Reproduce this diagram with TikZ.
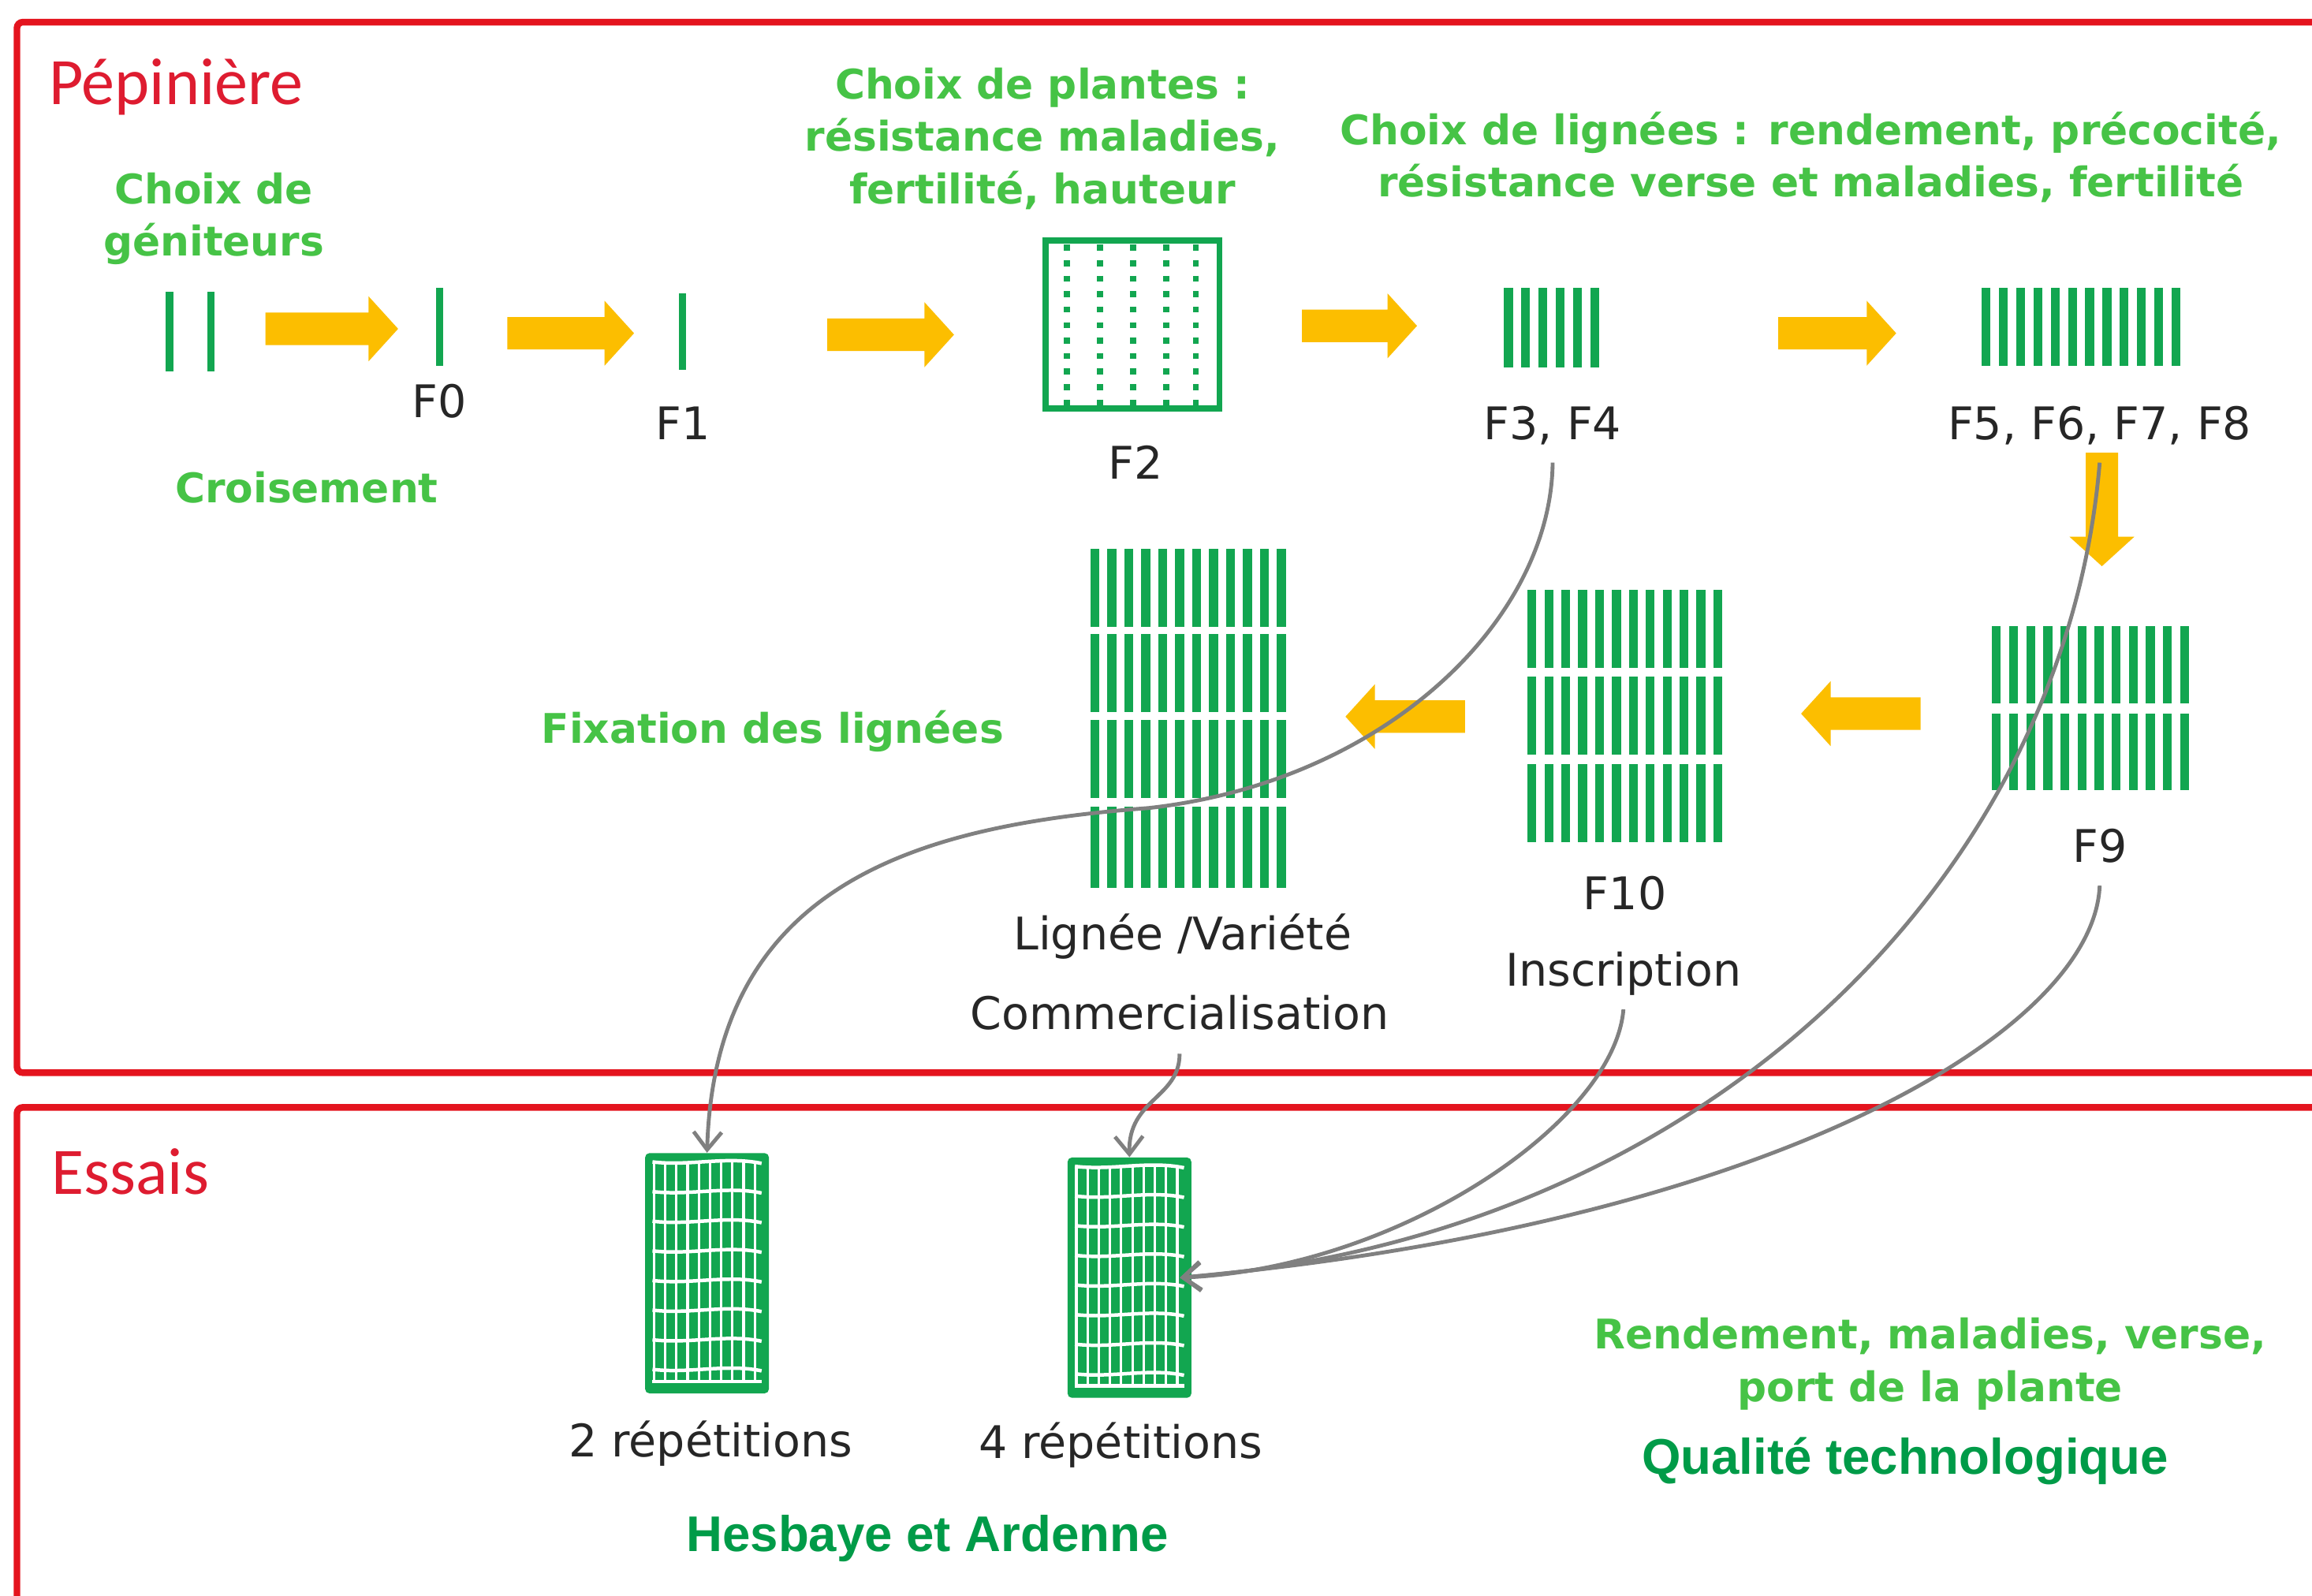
\documentclass[tikz,border=0pt]{standalone}
\usepackage{fontspec}
\setmainfont{DejaVu Sans}
\newfontfamily\calib{Carlito}
\newfontfamily\arialfam{Liberation Sans}
\usetikzlibrary{arrows.meta}
\definecolor{framered}{RGB}{228,20,30}
\definecolor{tred}{RGB}{222,28,48}
\definecolor{plant}{RGB}{18,166,80}
\definecolor{lgreen}{RGB}{70,195,70}
\definecolor{dgreen}{RGB}{0,155,72}
\definecolor{arrowfill}{RGB}{252,190,0}
\definecolor{conngray}{RGB}{128,128,128}
\newcommand{\ml}[1]{\begin{tabular}[t]{@{}c@{}}#1\end{tabular}}
\newcommand{\plantbars}[6]{\foreach \i in {0,...,#3} \fill[plant] ({#1+\i*#4},#2) rectangle ++(#5,#6);}
\newcommand{\essaiplot}[2]{%
  \fill[plant, rounded corners=3] (#1,#2) rectangle ++(84,163);
  \begin{scope}[shift={(#1,#2)}]
    \foreach \k in {0,...,9} \draw[white, line width=1.7] ({6+\k*7.6},6) -- ({6+\k*7.6},155);
    \foreach \j in {0,...,7} \draw[white, line width=2.4] (5,{6+\j*20.1}) .. controls (30,{9+\j*20.1}) and (55,{2+\j*20.1}) .. (79,{7+\j*20.1});
    \draw[white, line width=2.4] (5,155) -- (79,155);
  \end{scope}}
\begin{document}
\begin{tikzpicture}[x=1pt,y=-1pt,
  frame/.style={draw=framered, line width=4.5, rounded corners=4},
  gtxt/.style={text=lgreen, font=\fontsize{27.7}{35.5}\selectfont\bfseries, inner sep=0},
  btxt/.style={text=black!85, font=\fontsize{30.5}{36}\selectfont, inner sep=0},
  atxt/.style={text=dgreen, font=\arialfam\fontsize{34}{40}\selectfont\bfseries, inner sep=0},
  rtxt/.style={text=tred, font=\calib\fontsize{45}{50}\selectfont, inner sep=0},
  zone/.style={inner sep=0, minimum width=#1},
  conn/.style={draw=conngray, line width=2.6, -{Straight Barb[length=12pt,width=19pt]}},
  pics/barrow/.style={code={\fill[arrowfill] (-#1/2,-11) -- ({#1/2-20},-11) -- ({#1/2-20},-22) -- (#1/2,0) -- ({#1/2-20},22) -- ({#1/2-20},11) -- (-#1/2,11) -- cycle;}}
]
\useasboundingbox (0,0) rectangle (1568,1082);
\clip (0,0) rectangle (1568,1082);
\fill[white] (0,0) rectangle (1568,1082);

% frames
\draw[frame] (1590,15) -- (11.5,15) -- (11.5,727.5) -- (1590,727.5);
\draw[frame] (1590,751) -- (11.5,751) -- (11.5,1100);

% titles
\node[rtxt, anchor=base west] (pep) at (33,71) {Pépinière};
\node[rtxt, anchor=base west] (ess) at (35,810) {Essais};

% green headings
\node[gtxt, anchor=base] (tgen) at (145,138) {\ml{Choix de\\géniteurs}};
\node[gtxt, anchor=base] (tcroi) at (208,341) {Croisement};
\node[gtxt, anchor=base] (tplant) at (707,67) {\ml{Choix de plantes :\\résistance maladies,\\fertilité, hauteur}};
\node[gtxt, anchor=base] (tlign) at (1228,98) {\ml{Choix de lignées : rendement, précocité,\\résistance verse et maladies, fertilité}};
\node[gtxt, anchor=base] (tfix) at (524,504) {Fixation des lignées};
\node[gtxt, anchor=base] (trend) at (1309,915) {\ml{Rendement, maladies, verse,\\port de la plante}};
\node[atxt, anchor=base] (tqual) at (1292,1000) {Qualité technologique};
\node[atxt, anchor=base] (thesb) at (629,1052) {Hesbaye et Ardenne};

% black labels
\node[btxt, anchor=base] (f0) at (298,283) {F0};
\node[btxt, anchor=base] (f1) at (463,298) {F1};
\node[btxt, anchor=base] (f2) at (770,325) {F2};
\node[btxt, anchor=base] (f34) at (1053,298) {F3, F4};
\node[btxt, anchor=base] (f58) at (1424,298) {F5, F6, F7, F8};
\node[btxt, anchor=base] (f9) at (1424,585) {F9};
\node[btxt, anchor=base] (f10) at (1102,617) {F10};
\node[btxt, anchor=base] (insc) at (1101,669) {Inscription};
\node[btxt, anchor=base] (lvar) at (802,644) {Lignée /Variété};
\node[btxt, anchor=base] (comm) at (800,698) {Commercialisation};
\node[btxt, anchor=base] (r2) at (482,988) {2 répétitions};
\node[btxt, anchor=base] (r4) at (760,989) {4 répétitions};

% plant groups
\plantbars{112.5}{198}{0}{0}{5}{54}
\plantbars{140.5}{198}{0}{0}{5}{54}
\node[zone=34, minimum height=54] (par) at (129.5,225) {};
\plantbars{295.5}{195}{0}{0}{5}{53}
\node[zone=5, minimum height=53] (f0b) at (298,221.5) {};
\plantbars{460.5}{199}{0}{0}{5}{52}
\node[zone=5, minimum height=52] (f1b) at (463,225) {};
\node[draw=plant, line width=4, minimum width=118, minimum height=114, inner sep=0] (f2b) at (768,220) {};
\foreach \x in {723.5,746,768.5,791,811}
  \draw[plant, line width=4, dash pattern=on 4 off 6.5] (\x,166) -- (\x,277);
\plantbars{1020}{195}{5}{11.7}{6}{54}
\node[zone=65, minimum height=54] (f34b) at (1052.5,222) {};
\plantbars{1344}{195}{11}{11.7}{6}{53}
\node[zone=135, minimum height=53] (f58b) at (1411.5,221.5) {};
\plantbars{1351}{424.5}{11}{11.6}{6}{52.5}
\plantbars{1351}{484}{11}{11.6}{6}{52}
\node[zone=134, minimum height=112] (f9b) at (1418,480) {};
\plantbars{1036}{400}{11}{11.45}{6}{53}
\plantbars{1036}{459}{11}{11.45}{6}{53}
\plantbars{1036}{518}{11}{11.45}{6}{53}
\node[zone=132, minimum height=171] (f10b) at (1102,485.5) {};
\plantbars{739.5}{372}{11}{11.5}{6}{53}
\plantbars{739.5}{430}{11}{11.5}{6}{53}
\plantbars{739.5}{488}{11}{11.5}{6}{53}
\plantbars{739.5}{547}{11}{11.5}{6}{55}
\node[zone=133, minimum height=230] (lignb) at (806,487) {};

% essais plots
\essaiplot{437.5}{782}
\node[zone=84, minimum height=163] (rep2) at (479.5,863.5) {};
\essaiplot{724}{785}
\node[zone=84, minimum height=163] (rep4) at (766,866.5) {};

% orange block arrows
\pic at (225,223) {barrow=90};
\pic at (387,226) {barrow=86};
\pic at (604,227) {barrow=86};
\pic at (922,221) {barrow=78};
\pic at (1246,226) {barrow=80};
\pic[rotate=-90] at (1425.5,345.5) {barrow=77};
\pic[rotate=180] at (1262,484) {barrow=81};
\pic[rotate=180] at (953,486) {barrow=81};

% gray connectors
\draw[conn] ([yshift=-12pt]f34.south) .. controls (1052,420) and (940,530) .. (779,548) .. controls (620,560) and (485,600) .. (rep2.north);
\draw[conn] ([yshift=-16pt]comm.south) .. controls (800,745) and (765,745) .. (rep4.north);
\draw[conn] ([yshift=-9pt]insc.south) .. controls (1095,760) and (950,860) .. ([xshift=-8pt]rep4.east);
\draw[conn] ([yshift=-12pt]f58.south) .. controls (1400,600) and (1150,840) .. ([xshift=-8pt]rep4.east);
\draw[conn] ([yshift=-15pt]f9.south) .. controls (1420,700) and (1200,830) .. ([xshift=-8pt]rep4.east);
\end{tikzpicture}
\end{document}
